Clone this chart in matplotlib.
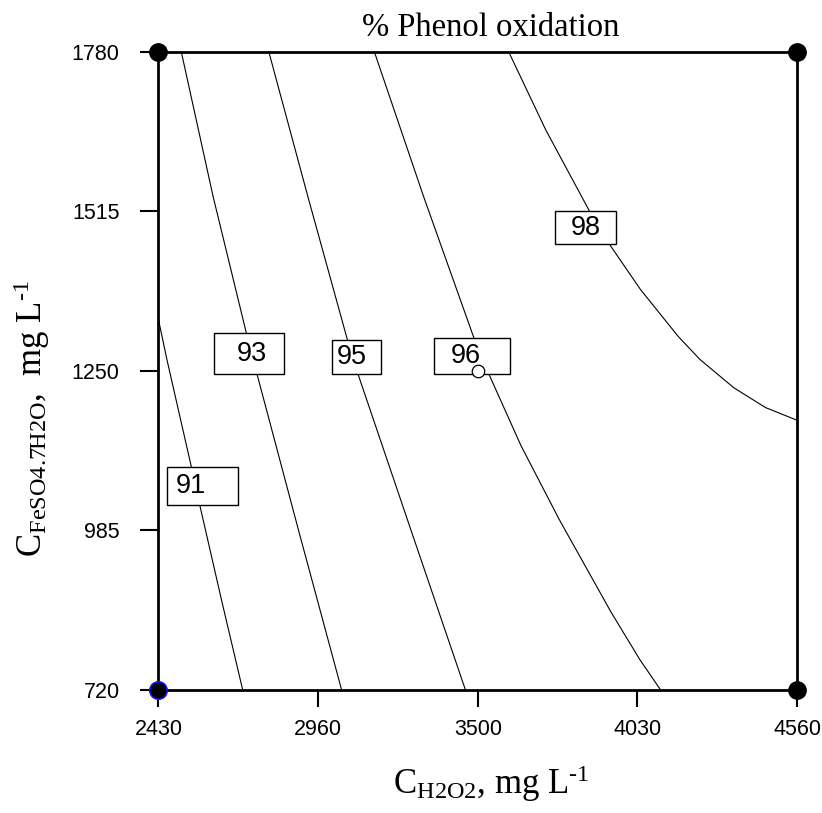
import numpy as np
import matplotlib.pyplot as plt
from matplotlib.patches import Rectangle

plt.rcParams['mathtext.fontset'] = 'custom'
plt.rcParams['mathtext.rm'] = 'Liberation Serif'
plt.rcParams['mathtext.it'] = 'Liberation Serif:italic'

# axis ranges and ticks
h2o2_range = [2430, 4560]
feso4_range = [720, 1780]
x_tick_labels = ['2430', '2960', '3500', '4030', '4560']
y_tick_labels = ['720', '985', '1250', '1515', '1780']

# contour lines of % phenol oxidation (H2O2, FeSO4)
c91_x = [2430, 2458, 2539, 2571, 2640, 2711]
c91_y = [1335, 1269, 1092, 1020, 870, 720]
c93_x = [2506, 2612, 2723, 2759, 2900, 3041]
c93_y = [1780, 1540, 1313, 1244, 980, 720]
c95_x = [2798, 2928, 3060, 3096, 3276, 3454]
c95_y = [1780, 1540, 1302, 1244, 980, 720]
c96_x = [3150, 3314, 3482, 3530, 3640, 3767, 3940, 4035, 4105]
c96_y = [1780, 1540, 1305, 1247, 1125, 1003, 849, 771, 720]
c98_x = [3598, 3722, 3868, 3936, 4038, 4164, 4236, 4349, 4455, 4560]
c98_y = [1780, 1650, 1515, 1459, 1385, 1307, 1269, 1222, 1189, 1168]

contours = {91: (c91_x, c91_y), 93: (c93_x, c93_y), 95: (c95_x, c95_y),
            96: (c96_x, c96_y), 98: (c98_x, c98_y)}

# design points
corner_x = [2430, 4560, 4560]
corner_y = [1780, 1780, 720]
low_x = [2430]
low_y = [720]
center_x = [3495]
center_y = [1250]

# label boxes: x0, x1, y0, y1, text x
label_layout = {
    91: (2458, 2694, 1027, 1091, 2539),
    93: (2614, 2849, 1244, 1313, 2741),
    95: (3010, 3173, 1244, 1302, 3076),
    96: (3350, 3601, 1244, 1305, 3454),
    98: (3753, 3956, 1460, 1515, 3855),
}

fig = plt.figure(figsize=(8.22, 8.13), dpi=100)
ax = fig.add_axes([0.1928, 0.1513, 0.7768, 0.7851])

for lev, (xs, ys) in contours.items():
    ax.plot(xs, ys, color='black', lw=0.8, zorder=2)

for lev, (x0, x1, y0, y1, tx) in label_layout.items():
    ax.add_patch(Rectangle((x0, y0), x1 - x0, y1 - y0, facecolor='white',
                           edgecolor='black', lw=1.0, zorder=3))
    ax.text(tx, (y0 + y1) / 2, str(lev), ha='center', va='center',
            fontsize=19.5, family='Liberation Sans', zorder=4)

ax.plot(corner_x, corner_y, 'o', color='black', ms=12.5, clip_on=False, zorder=5)
ax.plot(low_x, low_y, 'o', mfc='black', mec='#1010ff', mew=1.2, ms=12.5,
        clip_on=False, zorder=5)
ax.plot(center_x, center_y, 'o', mfc='white', mec='black', mew=0.9, ms=9,
        zorder=5)

ax.set_xlim(h2o2_range)
ax.set_ylim(feso4_range)
ax.set_xticks(np.linspace(h2o2_range[0], h2o2_range[1], 5))
ax.set_xticklabels(x_tick_labels)
ax.set_yticks(np.linspace(feso4_range[0], feso4_range[1], 5))
ax.set_yticklabels(y_tick_labels)

for s in ax.spines.values():
    s.set_linewidth(2.0)
ax.tick_params(axis='x', direction='out', length=12, width=1.5, pad=9,
               labelsize=15.5)
ax.tick_params(axis='y', direction='out', length=13, width=1.5, pad=15,
               labelsize=15.5)
for lab in ax.get_xticklabels() + ax.get_yticklabels():
    lab.set_family('Liberation Sans')

ax.text(0.521, 1.037, '% Phenol oxidation', transform=ax.transAxes,
        ha='center', va='center', fontsize=23.5, family='Liberation Serif')
ax.text(0.521, -0.146, r'C$_{\mathrm{H2O2}}$, mg L$^{\text{-1}}$',
        transform=ax.transAxes, ha='center', va='center', fontsize=25,
        family='Liberation Serif')
ax.text(-0.198, 0.426, r'C$_{\mathrm{FeSO4.7H2O}}$,  mg L$^{\text{-1}}$',
        transform=ax.transAxes, ha='center', va='center', rotation=90,
        fontsize=25, family='Liberation Serif')

fig.savefig('out.png', dpi=100)
